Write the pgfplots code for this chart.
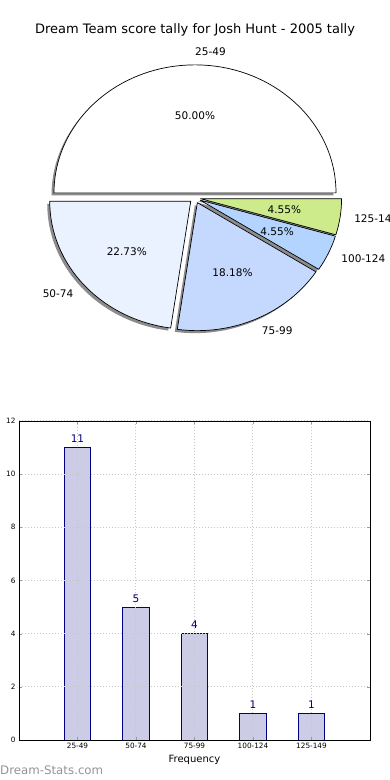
\documentclass[border=0pt]{standalone}
\usepackage{pgfplots}
\pgfplotsset{compat=1.18}
\usepackage{fontspec}
\setmainfont{DejaVu Sans}
\definecolor{sB}{RGB}{234,241,255}
\definecolor{sC}{RGB}{197,217,255}
\definecolor{sD}{RGB}{179,212,255}
\definecolor{sE}{RGB}{205,235,139}
\definecolor{barfill}{RGB}{204,204,230}
\definecolor{navyc}{RGB}{0,0,128}
\def\pietotal{22}
\newcommand\slicepos[1]{%
  \pgfmathsetmacro\sa{\cum}%
  \pgfmathsetmacro\ea{\cum+#1*360/\pietotal}%
  \xdef\cum{\ea}%
  \pgfmathsetmacro\ma{(\sa+\ea)/2}%
  \pgfmathsetmacro\ox{0.04*cos(\ma)}%
  \pgfmathsetmacro\oy{0.04*sin(\ma)}%
}
\newcommand\pieshadow[1]{\slicepos{#1}%
  \fill[black!45] ([shift={(-2.5pt,-2.5pt)}]axis cs:\ox,\oy) -- ++(\sa:141pt and 128pt)
    arc[start angle=\sa,end angle=\ea,x radius=141pt,y radius=128pt] -- cycle;}
\newcommand\pieslice[4]{\slicepos{#1}%
  \draw[fill=#2,line width=0.7pt,line join=round] (axis cs:\ox,\oy) -- ++(\sa:141pt and 128pt)
    arc[start angle=\sa,end angle=\ea,x radius=141pt,y radius=128pt] -- cycle;
  \pgfmathsetmacro\px{0.64*cos(\ma)}\pgfmathsetmacro\py{0.64*sin(\ma)}%
  \node[font=\fontsize{10.5}{12}\selectfont,inner sep=0pt] at (axis cs:\px,\py) {#4};
  \pgfmathsetmacro\lx{1.14*cos(\ma)}\pgfmathsetmacro\ly{1.14*sin(\ma)}%
  \pgfmathparse{cos(\ma)>-0.001 ? 1 : 0}%
  \ifdim\pgfmathresult pt>0.5pt \def\anc{west}\else\def\anc{east}\fi
  \node[anchor=\anc,inner sep=0pt,font=\fontsize{10.5}{12}\selectfont] at (axis cs:\lx,\ly) {#3};
}
\begin{document}
\begin{tikzpicture}
\useasboundingbox (0,0) rectangle (390pt,780pt);
\clip (0,0) rectangle (390pt,780pt);
\fill[white] (0,0) rectangle (390pt,780pt);
\node[font=\fontsize{13}{15}\selectfont] at (195pt,750pt) {Dream Team score tally for Josh Hunt - 2005 tally};
\begin{axis}[hide axis, x=141pt, y=128pt, xmin=-1.5, xmax=1.5, ymin=-1.3, ymax=1.3,
  anchor=origin, at={(195pt,582pt)}, clip=false]
\pgfplotsextra{%
  \gdef\cum{0}%
  \pieshadow{11}\pieshadow{5}\pieshadow{4}\pieshadow{1}\pieshadow{1}%
  \gdef\cum{0}%
  \pieslice{11}{white}{25-49}{50.00\%}%
  \pieslice{5}{sB}{50-74}{22.73\%}%
  \pieslice{4}{sC}{75-99}{18.18\%}%
  \pieslice{1}{sD}{100-124}{4.55\%}%
  \pieslice{1}{sE}{125-149}{4.55\%}%
}
\end{axis}
\begin{axis}[at={(19pt,40pt)}, anchor=south west, scale only axis, width=351pt, height=319pt,
  xmin=-1, xmax=5, ymin=0, ymax=12,
  xtick={0,...,4}, xticklabels={25-49,50-74,75-99,100-124,125-149},
  ytick={0,2,...,12},
  /pgf/number format/assume math mode=true,
  axis on top,
  grid=major, grid style={dash pattern=on 1pt off 2pt, black!22, line width=1pt},
  tick align=inside, major tick length=3pt, tick style={black!40},
  ticklabel style={font=\fontsize{7.3}{8}\selectfont},
  axis line style={line width=0.8pt},
  xlabel={Frequency}, ylabel={Score Intervals},
  xlabel style={font=\fontsize{10}{12}\selectfont, at={(axis description cs:0.5,0)}, anchor=center, yshift=-20pt},
  ylabel style={font=\fontsize{10}{12}\selectfont, at={(axis description cs:-0.044,0.51)}, anchor=south},
  nodes near coords, nodes near coords style={text=navyc, font=\fontsize{10.5}{12}\selectfont, inner sep=2pt, yshift=2.5pt},
  ]
\addplot[ybar, bar width=0.45, fill=barfill, draw=navyc, line width=0.8pt] coordinates {(0,11)(1,5)(2,4)(3,1)(4,1)};
\end{axis}
\node[anchor=west, text=black!42, font=\fontsize{11.8}{13}\selectfont, inner sep=0pt] at (0pt,9.5pt) {Dream-Stats.com};
\end{tikzpicture}
\end{document}
